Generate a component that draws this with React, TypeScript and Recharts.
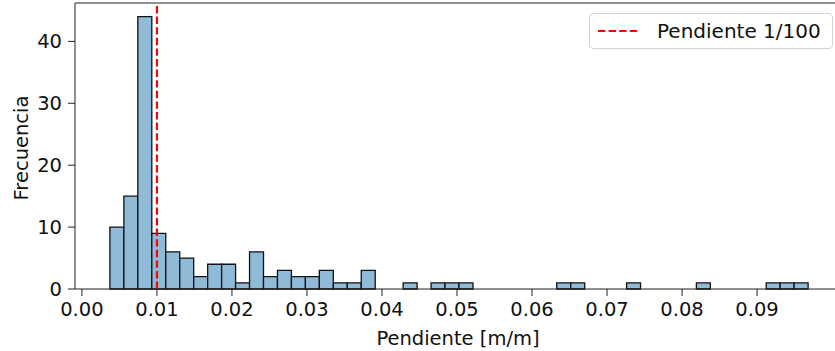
import {
  ComposedChart,
  XAxis,
  YAxis,
  ReferenceArea,
  ReferenceLine,
  Line,
} from 'recharts';

// histogram counts, 50 bins between BIN_LO and BIN_HI
const counts = [
  10, 15, 44, 9, 6, 5, 2, 4, 4, 1,
  6, 2, 3, 2, 2, 3, 1, 1, 3, 0,
  0, 1, 0, 1, 1, 1, 0, 0, 0, 0,
  0, 0, 1, 1, 0, 0, 0, 1, 0, 0,
  0, 0, 1, 0, 0, 0, 0, 1, 1, 1,
];
const BIN_LO = 0.00373;
const BIN_HI = 0.0968;
const xTicks = [0, 0.01, 0.02, 0.03, 0.04, 0.05, 0.06, 0.07, 0.08, 0.09];
const yTicks = [0, 10, 20, 30, 40];
const threshold = 0.01;
const legendLabel = 'Pendiente 1/100';

const FONT = '"DejaVu Sans", sans-serif';
const FS = 19.5;
const binW = (BIN_HI - BIN_LO) / counts.length;
const bins = counts.map((c, i) => ({
  x0: BIN_LO + i * binW,
  x1: BIN_LO + (i + 1) * binW,
  mid: BIN_LO + (i + 0.5) * binW,
  count: c,
}));

const span = BIN_HI - BIN_LO;
const xDomain = [BIN_LO - 0.05 * span, BIN_HI + 0.05 * span];
const yDomain = [0, 44 * 1.05];

export default function App() {
  return (
    <div
      style={{
        position: 'absolute',
        left: 0,
        top: 0,
        width: 835,
        height: 351,
        overflow: 'hidden',
        background: '#fff',
        fontFamily: FONT,
      }}
    >
      <ComposedChart
        width={850}
        height={351}
        data={bins}
        margin={{ top: 3, right: 7, left: 0, bottom: 0 }}
      >
        <XAxis
          type="number"
          dataKey="mid"
          domain={xDomain}
          allowDataOverflow
          ticks={xTicks}
          tickFormatter={(v: number) => v.toFixed(2)}
          tickSize={7}
          tickMargin={6}
          height={62}
          stroke="#222"
          tick={{ fill: '#111', fontSize: FS, fontFamily: FONT }}
          label={(props: any) => {
            const vb = props.viewBox;
            return (
              <text
                x={vb.x + vb.width / 2 - 1}
                y={345}
                textAnchor="middle"
                fontSize={FS}
                fontFamily={FONT}
                fill="#111"
              >
                Pendiente [m/m]
              </text>
            );
          }}
        />
        <YAxis
          type="number"
          domain={yDomain}
          allowDataOverflow
          ticks={yTicks}
          width={75}
          tickSize={7}
          tickMargin={6}
          stroke="#222"
          tick={{ fill: '#111', fontSize: FS, fontFamily: FONT }}
          label={(props: any) => {
            const vb = props.viewBox;
            const cy = vb.y + vb.height / 2 + 2;
            return (
              <text
                x={28}
                y={cy}
                textAnchor="middle"
                fontSize={FS}
                fontFamily={FONT}
                fill="#111"
                transform={`rotate(-90, 28, ${cy})`}
              >
                Frecuencia
              </text>
            );
          }}
        />
        {bins
          .filter((b) => b.count > 0)
          .map((b, i) => (
            <ReferenceArea
              key={`bin-${i}`}
              x1={b.x0}
              x2={b.x1}
              y1={0}
              y2={b.count}
              fill="#8fbbd9"
              fillOpacity={1}
              stroke="#111"
              strokeWidth={1.3}
              ifOverflow="visible"
            />
          ))}
        <ReferenceLine
          x={threshold}
          stroke="#ff0000"
          strokeWidth={2.2}
          strokeDasharray="7.4 3.2"
        />
        <Line
          dataKey="count"
          stroke="none"
          dot={false}
          activeDot={false}
          legendType="none"
          isAnimationActive={false}
        />
        {/* top spine */}
        <ReferenceLine y={yDomain[1]} stroke="#222" strokeWidth={1} ifOverflow="visible" />
      </ComposedChart>
      <div
        style={{
          position: 'absolute',
          left: 589,
          top: 13,
          width: 244,
          height: 36,
          boxSizing: 'border-box',
          border: '1px solid #d4d4d4',
          borderRadius: 4,
          background: '#fff',
          display: 'flex',
          alignItems: 'center',
        }}
      >
        <svg width={67} height={20} style={{ display: 'block' }}>
          <line
            x1={8}
            y1={10}
            x2={50}
            y2={10}
            stroke="#ff0000"
            strokeWidth={2.2}
            strokeDasharray="7.4 3.2"
          />
        </svg>
        <span style={{ fontSize: 20, color: '#111', whiteSpace: 'nowrap' }}>{legendLabel}</span>
      </div>
    </div>
  );
}
